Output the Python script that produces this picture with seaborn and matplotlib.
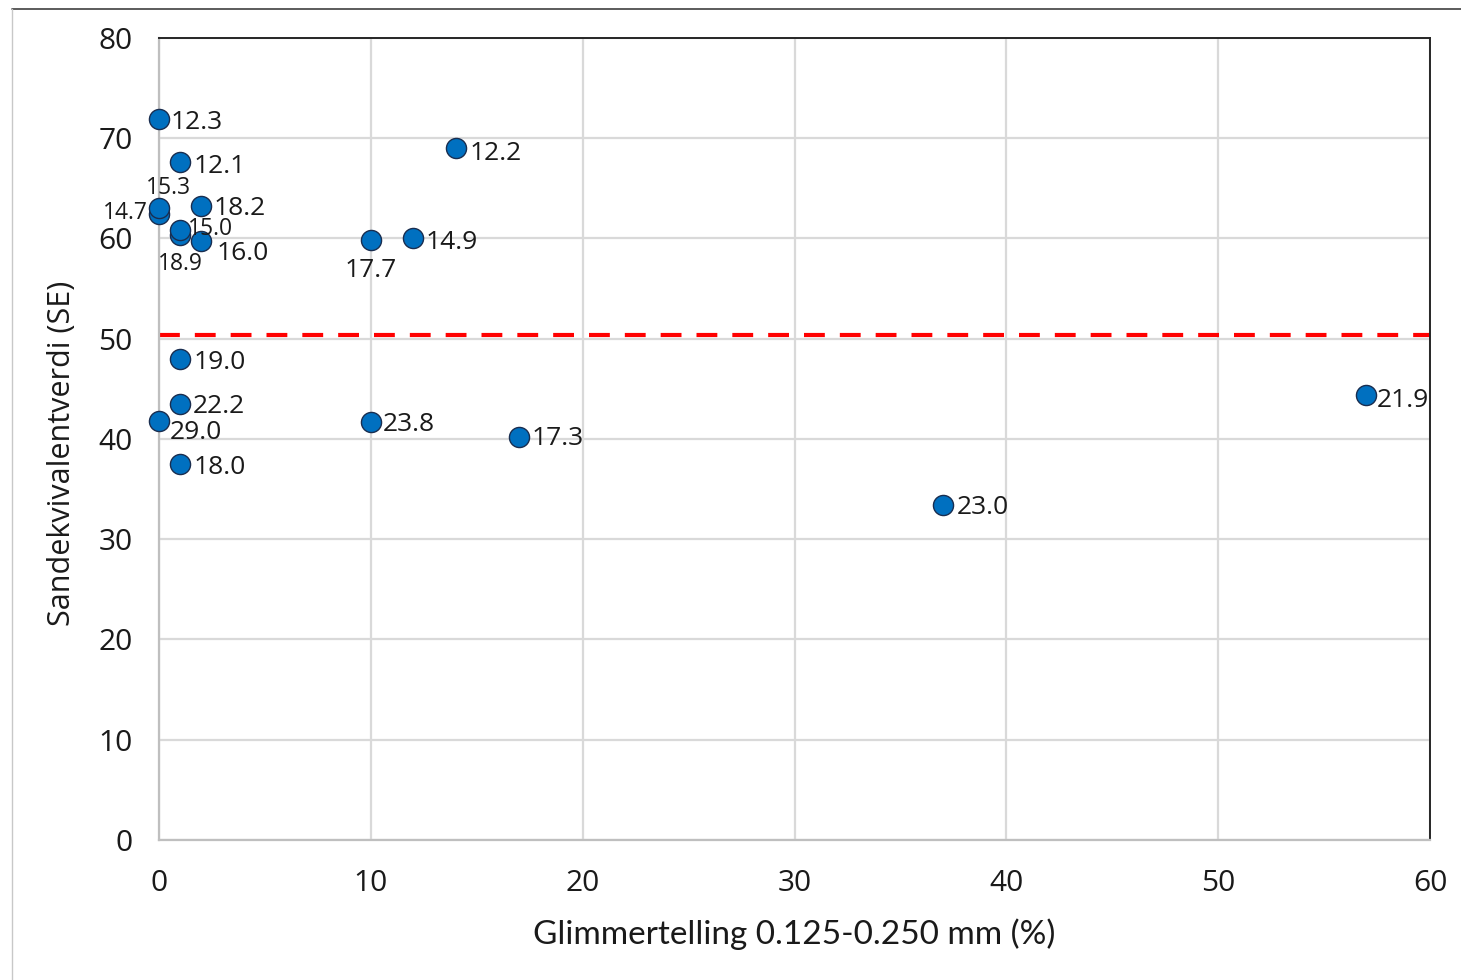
import matplotlib
matplotlib.use("Agg")
import matplotlib.pyplot as plt
import seaborn as sns
import pandas as pd
from matplotlib.lines import Line2D

# ---- data ----
glimmer = [0, 1, 14, 0, 0, 2, 1, 1, 2, 10, 12, 1, 1, 0, 1, 10, 17, 37, 57]
se = [71.9, 67.6, 69.0, 62.4, 63.0, 63.2, 60.3, 60.8, 59.8, 59.9, 60.0,
      48.0, 43.5, 41.8, 37.5, 41.7, 40.2, 33.4, 44.4]
labels = ["12.3", "12.1", "12.2", "14.7", "15.3", "18.2", "18.9", "15.0", "16.0",
          "17.7", "14.9", "19.0", "22.2", "29.0", "18.0", "23.8", "17.3", "23.0", "21.9"]
threshold = 50.4
x_ticks = [0, 10, 20, 30, 40, 50, 60]
y_ticks = [0, 10, 20, 30, 40, 50, 60, 70, 80]

# ---- label placement (pixel offsets, style only) ----
BIG, SMALL = 19, 16.5
px = {  # dx, dy (px, y up), ha, va, size
    "12.3": (12, -3, "left", "center", BIG),
    "12.1": (13, -4, "left", "center", BIG),
    "12.2": (14, -5, "left", "center", BIG),
    "14.7": (-11, 1, "right", "center", SMALL),
    "15.3": (9, 20, "center", "center", SMALL),
    "18.2": (12, -2, "left", "center", BIG),
    "18.9": (0, -29, "center", "center", SMALL),
    "15.0": (8, 1, "left", "center", SMALL),
    "16.0": (15, -13, "left", "center", BIG),
    "17.7": (0, -31, "center", "center", BIG),
    "14.9": (12, -4, "left", "center", BIG),
    "19.0": (13, -4, "left", "center", BIG),
    "22.2": (13, -3, "left", "center", BIG),
    "29.0": (11, -12, "left", "center", BIG),
    "18.0": (13, -3, "left", "center", BIG),
    "23.8": (12, -3, "left", "center", BIG),
    "17.3": (12, -2, "left", "center", BIG),
    "23.0": (14, -2, "left", "center", BIG),
    "21.9": (10, -6, "left", "center", BIG),
}

df = pd.DataFrame({"glimmer": glimmer, "se": se, "label": labels})

sns.set_theme(style="white")
plt.rcParams["font.family"] = ["Open Sans", "DejaVu Sans"]

fig = plt.figure(figsize=(14.61, 9.8), dpi=100)
ax = fig.add_axes([159 / 1461, 1 - 840 / 980, (1430 - 159) / 1461, (840 - 38) / 980])

ax.axhline(threshold, color="#ff0000", lw=3.0, ls=(0, (5, 3.6)), zorder=2)

sns.scatterplot(data=df, x="glimmer", y="se", ax=ax, s=210, color="#0070C0",
                edgecolor="#1a2e50", linewidth=1.0, zorder=3, legend=False, clip_on=False)

for _, r in df.iterrows():
    dx, dy, ha, va, fs = px[r["label"]]
    ax.annotate(r["label"], (r["glimmer"], r["se"]), xytext=(dx * 0.72, dy * 0.72),
                textcoords="offset points", ha=ha, va=va, fontsize=fs,
                color="#1a1a1a", zorder=4, annotation_clip=False)

ax.set_xlim(0, 60)
ax.set_ylim(0, 80)
ax.set_xticks(x_ticks)
ax.set_yticks(y_ticks)
ax.tick_params(axis="both", length=0, labelsize=21.5, colors="#1a1a1a")
ax.tick_params(axis="y", pad=19)
ax.tick_params(axis="x", pad=21)
ax.grid(True, color="#d9d9d9", lw=1.6)
ax.set_axisbelow(True)
for s in ["top", "right"]:
    ax.spines[s].set_color("#262626")
    ax.spines[s].set_linewidth(1.4)
for s in ["left", "bottom"]:
    ax.spines[s].set_color("#bfbfbf")
    ax.spines[s].set_linewidth(1.6)

ax.set_xlabel("Glimmertelling 0.125-0.250 mm (%)", fontsize=24, family=["Lato", "DejaVu Sans"],
              color="#1a1a1a")
ax.xaxis.set_label_coords(0.5, -(918 - 840) / 802)
ax.set_ylabel("Sandekvivalentverdi (SE)", fontsize=22, color="#1a1a1a")
ax.yaxis.set_label_coords(-(159 - 77) / 1271, (840 - 453) / 802)

# outer frame lines
fig.add_artist(Line2D([12 / 1461, 1], [1 - 9 / 980, 1 - 9 / 980], color="#404040", lw=1.2))
fig.add_artist(Line2D([12 / 1461, 12 / 1461], [0, 1 - 9 / 980], color="#c8c8c8", lw=1.0))

fig.savefig("out.png", dpi=100, facecolor="white")
